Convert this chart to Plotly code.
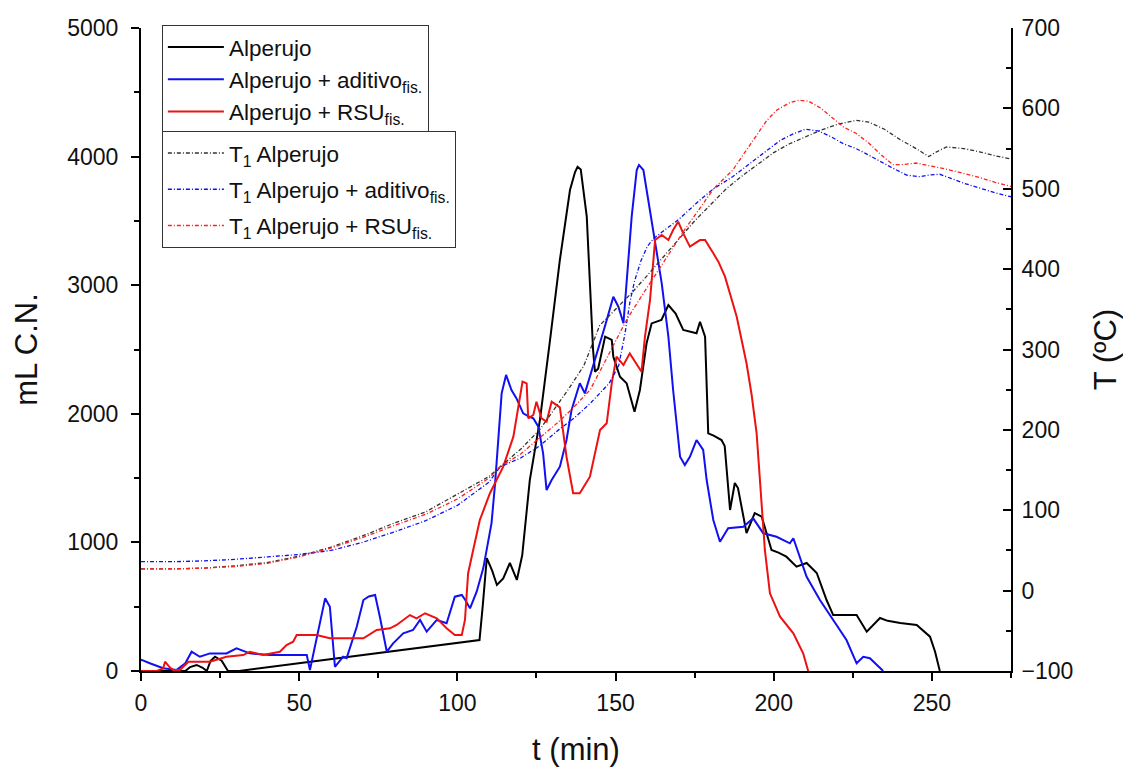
import plotly.graph_objects as go

# ---- mL C.N. series ----
t_black = [0, 14, 15.5, 17.6, 19.5, 20.8, 22, 23.4, 25.5, 27.5, 31, 107, 108, 109.3, 111, 112.5, 114.5,
           116.6, 118.8, 120.5, 122.9, 126.1, 129.3, 132.4, 135.6, 137.2, 138, 139, 140.9, 141.9, 142.9,
           143.5, 144.5, 146.7, 148.8, 149.3, 151.4, 153.5, 156, 157.7, 159.8, 161.4, 164.5, 166.7, 169,
           171.4, 175.6, 176.7, 178.3, 179.3, 181, 183.5, 184.5, 186.2, 187.7, 188.7, 191.4, 194, 196.2,
           199.3, 201.5, 204, 207.2, 210.4, 213.6, 216.7, 218.8, 226.2, 229.4, 233.6, 236, 240, 245.2,
           249.4, 251, 252.5]
L_black = [0, 0, 30, 47, 25, 0, 80, 111, 80, 0, 0, 241, 500, 878, 780, 669, 720,
           840, 708, 900, 1485, 1952, 2574, 3196, 3740, 3880, 3921, 3900, 3533, 3017, 2496,
           2327, 2350, 2600, 2574, 2444, 2288, 2237, 2016, 2185, 2548, 2703, 2730, 2846, 2780,
           2652, 2626, 2716, 2600, 1848, 1830, 1796, 1750, 1252, 1462, 1423, 1073, 1228, 1200,
           941, 920, 889, 811, 840, 762, 552, 435, 435, 306, 412, 390, 373, 358,
           267, 150, 0]

t_blue = [0, 0.2, 2.8, 7, 11.2, 14, 16, 18.6, 21.8, 27, 30.2, 34.4, 40.8, 47, 52.4, 53.4, 55.5, 58.2,
          59.7, 61.3, 63.9, 65, 68.2, 70.3, 72, 74, 75.5, 77.7, 79.7, 82.9, 86, 88.2, 90.3, 93.5, 96.6,
          99.2, 101.4, 102.5, 104, 106.1, 108.2, 110.8, 111.9, 114, 115.4, 117.1, 118.7, 120.8, 122.5,
          124, 125.6, 127.1, 128.2, 129.8, 132.4, 134.5, 136.1, 138.7, 140.3, 141.9, 145.1, 146.6,
          149.3, 150.9, 152.5, 153.5, 155.1, 156.7, 157.4, 158.8, 160.3, 162.5, 164.6, 166.7, 168.2,
          170.4, 171.9, 173.5, 175.6, 177.7, 178.8, 180.9, 183, 185.6, 190.4, 193.5, 196.7, 200.9,
          205.1, 206.2, 208.3, 210.4, 214.6, 218.8, 223, 226.2, 228.3, 230.4, 234.6]
L_blue = [80, 86, 60, 21, 8, 60, 150, 111, 137, 137, 176, 137, 124, 124, 124, 8, 241, 565,
          500, 33, 111, 100, 344, 552, 580, 591, 422, 150, 215, 293, 319, 397, 306, 397, 371,
          578, 591, 552, 487, 617, 800, 1150, 1450, 2159, 2302, 2185, 2120, 2004, 1980,
          1965, 1900, 1693, 1407, 1485, 1589, 1796, 2030, 2237, 2159, 2288, 2548, 2677,
          2910, 2833, 2704, 3015, 3533, 3896, 3935, 3896, 3663, 3326, 3015, 2600, 2185,
          1666, 1602, 1666, 1796, 1719, 1485, 1174, 1005, 1110, 1122, 1187, 1071, 1044,
          993, 1032, 889, 733, 552, 397, 241, 60, 111, 99, 0]

t_red = [0, 5, 7, 7.6, 9, 10.2, 12.3, 15, 21.8, 27, 32.3, 34.4, 38.6, 43.9, 46, 48.1, 49.2, 55.5,
         59.7, 64, 70.3, 74.5, 78.7, 80.8, 85, 87.1, 89.8, 93.5, 96.6, 99.2, 101.4, 102.4, 103.4, 105,
         107.1, 110.3, 114.5, 117.7, 119.2, 120.6, 121.9, 122.4, 124, 125, 126.6, 128.2, 129.8, 132.4,
         134.5, 136.6, 138.7, 141.9, 145.1, 147.2, 148.8, 150.3, 152.5, 154.5, 158.2, 159.3, 160.9,
         162.5, 164.6, 166.7, 168.2, 169.8, 171.4, 173.5, 176.7, 178.3, 180.9, 182.5, 184.6, 188.3,
         191.4, 193, 194.6, 196.2, 197.2, 198.8, 202, 206.2, 209.3, 210.9]
L_red = [0, 0, 20, 72, 30, 8, 8, 72, 72, 111, 124, 150, 124, 150, 202, 228, 280, 280,
         254, 254, 254, 319, 332, 358, 435, 409, 449, 410, 332, 280, 280, 397, 760, 941,
         1174, 1382, 1589, 1822, 2030, 2250, 2237, 1965, 1991, 2094, 1965, 1939, 2094, 2050,
         1666, 1382, 1382, 1511, 1874, 1926, 2237, 2444, 2379, 2470, 2327, 2600, 2885,
         3351, 3390, 3351, 3429, 3494, 3403, 3300, 3351, 3351, 3248, 3183, 3066, 2755,
         2393, 2150, 1848, 1330, 941, 604, 422, 293, 138, 0]

# ---- Temperature series (T1) ----
tT_black = [0, 10, 20, 30, 40, 50, 60, 70, 80, 90, 100, 110, 113.5, 120, 126, 130, 135, 140, 145, 150,
            155, 160, 165, 170, 175, 180, 185, 190, 195, 200, 205, 210, 215, 220, 226, 230, 235, 240,
            245, 249, 251, 254.6, 260, 265, 270, 275]
T_black = [27, 27, 28, 31, 35, 43, 54, 68, 84, 98, 120, 142, 154, 176, 200, 222, 250, 280, 330, 350,
           370, 392, 415, 437, 460, 480, 500, 516, 531, 545, 556, 565, 573, 580, 585, 583, 574, 561,
           550, 540, 545, 552, 550, 546, 541, 537]

tT_red = [0, 10, 20, 30, 40, 50, 60, 70, 80, 90, 100, 110, 113.5, 120, 126, 132, 136, 142, 146, 150,
          153.5, 158, 163, 168, 172, 176.7, 181, 187, 192, 197.8, 201, 205, 208, 211, 215, 219, 222,
          226, 230, 234, 237.7, 241, 245, 250, 255, 260, 265, 270, 275]
T_red = [27, 27, 28, 30, 34, 42, 53, 66, 81, 95, 114, 140, 154, 170, 190, 210, 225, 250, 280, 310,
         337, 365, 395, 425, 450, 476, 500, 523, 552, 585, 598, 607, 610, 609, 600, 587, 577,
         569, 557, 542, 530, 530, 532, 528, 524, 519, 514, 508, 503]

tT_blue = [0, 10, 20, 30, 40, 50, 60, 70, 80, 90, 100, 110, 113.5, 120, 126, 132, 137, 142, 148, 151,
           153, 154.5, 156, 158, 160, 162, 165, 170, 176.7, 181, 187, 192, 198, 202, 206, 210, 214,
           218, 222, 226, 229, 233, 237, 242, 246, 249, 252.5, 256, 260, 265, 270, 275]
T_blue = [36, 36, 37, 39, 42, 45, 50, 60, 73, 87, 106, 135, 154, 165, 180, 200, 215, 233, 258, 280,
          320, 358, 385, 410, 428, 438, 447, 462, 486, 500, 515, 530, 548, 560, 568, 574, 572,
          565, 556, 550, 544, 535, 527, 517, 515, 517, 518, 513, 507, 501, 495, 490]

names_main = ["Alperujo", "Alperujo + aditivo<sub>fis.</sub>", "Alperujo + RSU<sub>fis.</sub>"]
names_T = ["T<sub>1</sub> Alperujo", "T<sub>1</sub> Alperujo + aditivo<sub>fis.</sub>",
           "T<sub>1</sub> Alperujo + RSU<sub>fis.</sub>"]

BLACK = "#000000"
BLUE = "#1010f0"
RED = "#ee1111"

fig = go.Figure()
for i, (tx, ly, nm, col) in enumerate([(t_black, L_black, names_main[0], BLACK),
                                       (t_blue, L_blue, names_main[1], BLUE),
                                       (t_red, L_red, names_main[2], RED)]):
    fig.add_trace(go.Scatter(x=tx, y=ly, mode="lines", name=nm,
                             line=dict(color=col, width=2), legend="legend",
                             legendgroup="m%d" % i))

for i, (tx, ty, nm, col) in enumerate([(tT_black, T_black, names_T[0], "#333333"),
                                       (tT_blue, T_blue, names_T[1], BLUE),
                                       (tT_red, T_red, names_T[2], "#ff2020")]):
    fig.add_trace(go.Scatter(x=tx, y=ty, mode="lines", name=nm, yaxis="y2",
                             line=dict(color=col, width=1.3, dash="4px,2px,1px,2px"),
                             legend="legend2", legendgroup="t%d" % i))

FONT = "Liberation Sans, Arial, sans-serif"
axis_common = dict(showline=True, linecolor="black", linewidth=2, showgrid=False, zeroline=False,
                   tickfont=dict(size=23, color="#111111", family=FONT), automargin=False,
                   ticklen=8, tickwidth=2, tickcolor="black")

fig.update_layout(
    width=1123, height=761,
    margin=dict(l=133, r=120, t=20, b=98),
    paper_bgcolor="white", plot_bgcolor="white",
    font=dict(family=FONT, color="#111111"),
    xaxis=dict(range=[0, 275], dtick=50, ticks="outside", ticklabelstandoff=2,
               minor=dict(dtick=25, ticks="outside", ticklen=5, tickwidth=2, tickcolor="black"),
               title=dict(text="t (min)", font=dict(size=31, family=FONT), standoff=24),
               **axis_common),
    yaxis=dict(range=[0, 5000], dtick=1000, ticks="outside", ticklabelstandoff=8,
               minor=dict(dtick=500, ticks="outside", ticklen=5, tickwidth=2, tickcolor="black"),
               title=dict(text="mL C.N.", font=dict(size=31, family=FONT), standoff=20),
               **axis_common),
    yaxis2=dict(range=[-100, 700], dtick=100, ticks="inside", overlaying="y", side="right",
                ticklabelstandoff=4,
                minor=dict(dtick=50, ticks="inside", ticklen=5, tickwidth=2, tickcolor="black"),
                title=dict(text="T (ºC)", font=dict(size=31, family=FONT), standoff=22),
                **axis_common),
    legend=dict(x=0.024, y=1.005, xanchor="left", yanchor="top", bgcolor="white",
                bordercolor="#333333", borderwidth=1, font=dict(size=22.5, family=FONT),
                itemwidth=56, tracegroupgap=0),
    legend2=dict(x=0.024, y=0.84, xanchor="left", yanchor="top", bgcolor="white",
                 bordercolor="#333333", borderwidth=1, font=dict(size=22.5, family=FONT),
                 itemwidth=56, tracegroupgap=4),
    showlegend=True,
)

fig.write_html("out.html")
